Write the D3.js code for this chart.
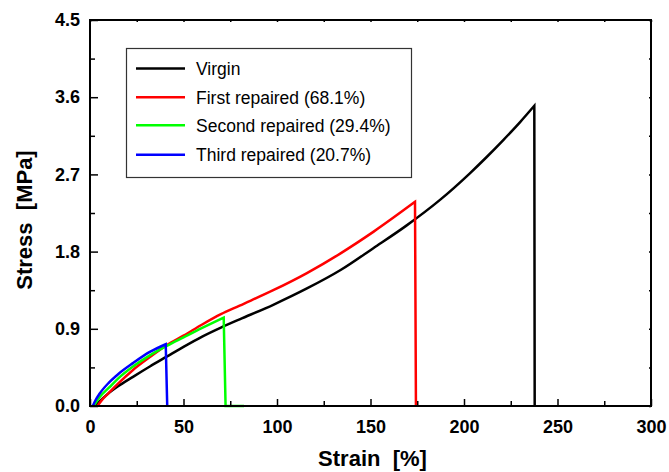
<!DOCTYPE html>
<html>
<head>
<meta charset="utf-8">
<script src="https://cdn.jsdelivr.net/npm/d3@7"></script>
<style>
  html, body { margin: 0; padding: 0; background: #fff; }
  svg { display: block; font-family: "Liberation Sans", Arial, Helvetica, sans-serif; }
</style>
</head>
<body>
<svg id="chart" width="669" height="472"></svg>
<script>
// Stress–strain curves of the virgin sample and the repaired samples
const seriesNames = ["Virgin", "First repaired (68.1%)", "Second repaired (29.4%)", "Third repaired (20.7%)"];
const seriesColors = ["#000000", "#ff0000", "#00ff00", "#0000ff"];

const virginStrain = [3, 5, 10, 15, 23, 32, 41, 50, 60, 70, 80, 98, 116, 134, 151.5, 169, 187, 203, 212, 221, 230, 237.6, 237.8];
const virginStress = [0, 0.05, 0.15, 0.23, 0.34, 0.46, 0.575, 0.69, 0.81, 0.915, 1.01, 1.18, 1.37, 1.585, 1.84, 2.1, 2.4, 2.71, 2.9, 3.1, 3.31, 3.5, 0];

const firstStrain = [4, 6, 10, 15, 23, 32, 41, 50, 60, 70, 80, 98, 116, 134, 151.5, 173.8, 174.3];
const firstStress = [0, 0.06, 0.15, 0.26, 0.42, 0.57, 0.71, 0.82, 0.95, 1.07, 1.17, 1.35, 1.55, 1.78, 2.03, 2.38, 0];

const secondStrain = [2, 5, 10, 15, 23, 32, 41, 50, 60, 71.5, 72.5, 82.4];
const secondStress = [0, 0.1, 0.21, 0.32, 0.46, 0.59, 0.7, 0.8, 0.91, 1.03, 0, 0];

const thirdStrain = [1.5, 3, 5, 10, 15, 23, 32, 40.5, 41.3];
const thirdStress = [0, 0.07, 0.14, 0.27, 0.37, 0.5, 0.63, 0.72, 0];

const xTicks = [0, 50, 100, 150, 200, 250, 300];
const yTicks = [0, 0.9, 1.8, 2.7, 3.6, 4.5];

const series = [
  {strain: virginStrain, stress: virginStress},
  {strain: firstStrain, stress: firstStress},
  {strain: secondStrain, stress: secondStress},
  {strain: thirdStrain, stress: thirdStress}
];

const svg = d3.select("#chart");
const plotL = 90, plotR = 651, plotT = 20, plotB = 406;

const x = d3.scaleLinear().domain([0, 300]).range([plotL, plotR]);
const y = d3.scaleLinear().domain([0, 4.5]).range([plotB, plotT]);

// minor ticks halfway between major ones
const xMinor = d3.range(25, 300, 50);
const yMinor = d3.range(0.45, 4.5, 0.9);

// curves: smooth loading branch, straight fracture drop
const smooth = d3.line().x(d => x(d[0])).y(d => y(d[1])).curve(d3.curveMonotoneX);
const straight = d3.line().x(d => x(d[0])).y(d => y(d[1]));

const curves = svg.append("g");
series.forEach((s, i) => {
  const pts = s.strain.map((v, k) => [v, s.stress[k]]);
  const peak = d3.maxIndex(pts, d => d[1]);
  const rise = pts.slice(0, peak + 1);
  const drop = pts.slice(peak);
  const d = smooth(rise) + straight(drop).replace(/^M/, "L");
  curves.append("path")
    .attr("d", d)
    .attr("fill", "none")
    .attr("stroke", seriesColors[i])
    .attr("stroke-width", 2.5)
    .attr("stroke-linejoin", "miter");
});

// axes: ticks point into the plot
const axisG = svg.append("g");
axisG.append("g")
  .attr("transform", `translate(0,${plotB})`)
  .call(d3.axisBottom(x).tickValues(xTicks).tickSize(-7).tickPadding(14).tickFormat(d3.format("d")))
  .call(g => g.select(".domain").remove());
axisG.append("g")
  .attr("transform", `translate(0,${plotB})`)
  .call(d3.axisBottom(x).tickValues(xMinor).tickSize(-5).tickFormat(""))
  .call(g => g.select(".domain").remove());
axisG.append("g")
  .attr("transform", `translate(${plotL},0)`)
  .call(d3.axisLeft(y).tickValues(yTicks).tickSize(-8).tickPadding(10).tickFormat(d3.format(".1f")))
  .call(g => g.select(".domain").remove());
axisG.append("g")
  .attr("transform", `translate(${plotL},0)`)
  .call(d3.axisLeft(y).tickValues(yMinor).tickSize(-5).tickFormat(""))
  .call(g => g.select(".domain").remove());
// tiny mirror ticks on top and right
axisG.append("g")
  .attr("transform", `translate(0,${plotT})`)
  .call(d3.axisTop(x).tickValues(xTicks.concat(xMinor)).tickSize(-2).tickFormat(""))
  .call(g => g.select(".domain").remove());
axisG.append("g")
  .attr("transform", `translate(${plotR},0)`)
  .call(d3.axisRight(y).tickValues(yTicks.concat(yMinor)).tickSize(-2).tickFormat(""))
  .call(g => g.select(".domain").remove());

axisG.selectAll(".tick line").attr("stroke", "#000").attr("stroke-width", 1.5);
axisG.selectAll(".tick text")
  .attr("fill", "#000")
  .attr("font-size", 18)
  .attr("font-weight", "bold")
  .attr("font-family", "'Liberation Sans', Arial, sans-serif");

// frame
svg.append("rect")
  .attr("x", plotL).attr("y", plotT)
  .attr("width", plotR - plotL).attr("height", plotB - plotT)
  .attr("fill", "none").attr("stroke", "#000").attr("stroke-width", 2);

// axis titles
svg.append("text")
  .attr("x", (plotL + plotR) / 2 + 2).attr("y", 466)
  .attr("text-anchor", "middle")
  .attr("font-size", 22).attr("font-weight", "bold")
  .style("white-space", "pre")
  .text("Strain  [%]");
svg.append("text")
  .attr("transform", "translate(31.5,220) rotate(-90)")
  .attr("text-anchor", "middle")
  .attr("font-size", 22).attr("font-weight", "bold")
  .style("white-space", "pre")
  .text("Stress  [MPa]");

// legend
const legend = svg.append("g");
legend.append("rect")
  .attr("x", 126.5).attr("y", 48.5)
  .attr("width", 285).attr("height", 129)
  .attr("fill", "#fff").attr("stroke", "#333").attr("stroke-width", 1.2);
const rowY = [68.5, 97.3, 125.3, 154.8];
seriesNames.forEach((name, i) => {
  legend.append("line")
    .attr("x1", 136).attr("x2", 185)
    .attr("y1", rowY[i]).attr("y2", rowY[i])
    .attr("stroke", seriesColors[i]).attr("stroke-width", 2.5);
  legend.append("text")
    .attr("x", 196).attr("y", rowY[i] + 6.5)
    .attr("font-size", 17.5)
    .attr("fill", "#000")
    .text(name);
});
</script>
</body>
</html>
